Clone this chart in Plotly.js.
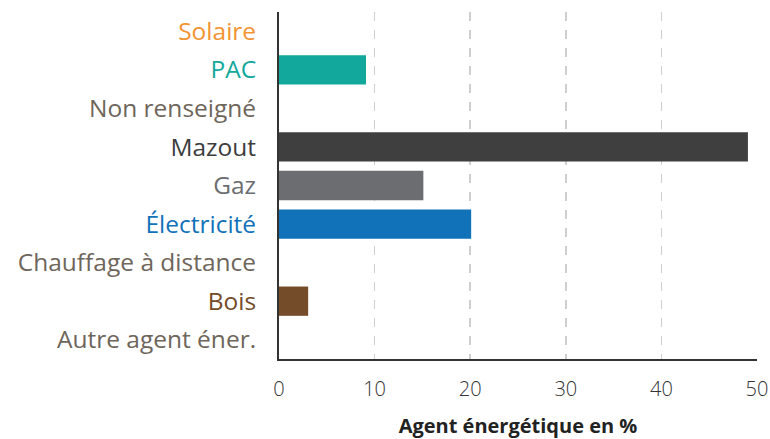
<!DOCTYPE html>
<html>
<head>
<meta charset="utf-8">
<script src="https://cdn.plot.ly/plotly-3.0.1.min.js"></script>
<style>html,body{margin:0;padding:0;background:#fff;}#chart{width:770px;height:439px;}</style>
</head>
<body>
<div id="chart"></div>
<script>
const categories = ["Solaire", "PAC", "Non renseigné", "Mazout", "Gaz", "Électricité", "Chauffage à distance", "Bois", "Autre agent éner."];
const values = [0, 9.1, 0, 49.05, 15.1, 20.1, 0, 3.05, 0];
const barColors = ["#F39433", "#13A89C", "#6E655B", "#3F3F3F", "#6C6D71", "#1172BA", "#6E655B", "#754C29", "#6E655B"];
const labelColors = ["#F39433", "#13A89C", "#6E655B", "#3D3D3D", "#6C6D71", "#1172BA", "#6E655B", "#754C29", "#6E655B"];
const xTicks = [0, 10, 20, 30, 40, 50];
const xTitle = "Agent énergétique en %";

const tickText = categories.map((c, i) => '<span style="color:' + labelColors[i] + '">' + c + '</span>');

const trace = {
  type: 'bar',
  orientation: 'h',
  x: values,
  y: categories,
  marker: { color: barColors },
  hoverinfo: 'x+y'
};

const layout = {
  width: 770,
  height: 439,
  margin: { l: 279, r: 13, t: 12, b: 80 },
  paper_bgcolor: '#fff',
  plot_bgcolor: '#fff',
  bargap: 0.24,
  showlegend: false,
  font: { family: '"Open Sans", Lato, sans-serif', color: '#333' },
  xaxis: {
    range: [0, 50],
    tickvals: xTicks,
    ticktext: xTicks.map(String),
    showgrid: true,
    gridcolor: '#cfcfcf',
    gridwidth: 1.5,
    griddash: 'dash',
    zeroline: false,
    showline: true,
    linecolor: '#333',
    linewidth: 2,
    ticks: '',
    ticklabelstandoff: 11,
    tickfont: { size: 20, color: '#333', weight: 300 },
    title: { text: xTitle, font: { size: 20, color: '#222', weight: 'bold' }, standoff: 21 }
  },
  yaxis: {
    type: 'category',
    autorange: 'reversed',
    tickvals: categories,
    ticktext: tickText,
    showgrid: false,
    zeroline: false,
    showline: true,
    linecolor: '#333',
    linewidth: 2,
    ticks: '',
    ticklabelstandoff: 16,
    tickfont: { size: 24.5 }
  }
};

Plotly.newPlot('chart', [trace], layout, { displayModeBar: false, staticPlot: true });
</script>
</body>
</html>
